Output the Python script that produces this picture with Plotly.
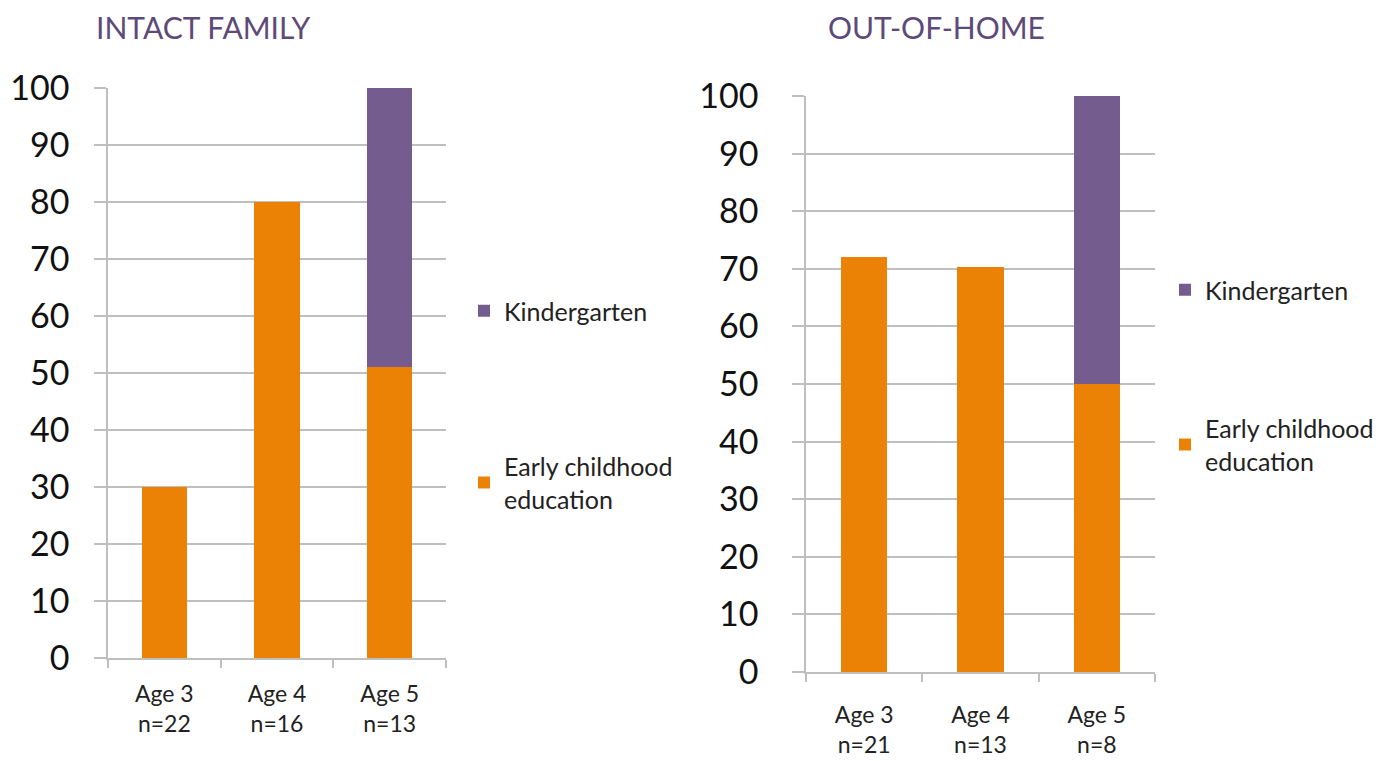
import plotly.graph_objects as go

categories_left = ["Age 3<br>n=22", "Age 4<br>n=16", "Age 5<br>n=13"]
ece_left = [30, 80, 51]
kg_left = [None, None, 49]

categories_right = ["Age 3<br>n=21", "Age 4<br>n=13", "Age 5<br>n=8"]
ece_right = [72, 70.3, 50]
kg_right = [None, None, 50]

titles = ["INTACT FAMILY", "OUT-OF-HOME"]
series_names = ["Early childhood<br>education", "Kindergarten"]
y_ticks = [0, 10, 20, 30, 40, 50, 60, 70, 80, 90, 100]

ORANGE = "#EC8205"
PURPLE = "#745D8E"
GRID = "#BFBFBF"
TITLE_C = "#5E4A78"
FONT = "Lato, Open Sans, sans-serif"

fig = go.Figure()

fig.add_trace(go.Bar(x=categories_left, y=ece_left, name=series_names[0],
                     marker=dict(color=ORANGE, line=dict(width=0)),
                     xaxis="x", yaxis="y", legend="legend", legendgroup="a", legendrank=2))
fig.add_trace(go.Bar(x=categories_left, y=kg_left, name=series_names[1],
                     marker=dict(color=PURPLE, line=dict(width=0)),
                     xaxis="x", yaxis="y", legend="legend", legendgroup="b", legendrank=1))
fig.add_trace(go.Bar(x=categories_right, y=ece_right, name=series_names[0],
                     marker=dict(color=ORANGE, line=dict(width=0)),
                     xaxis="x2", yaxis="y2", legend="legend2", legendgroup="c", legendrank=2))
fig.add_trace(go.Bar(x=categories_right, y=kg_right, name=series_names[1],
                     marker=dict(color=PURPLE, line=dict(width=0)),
                     xaxis="x2", yaxis="y2", legend="legend2", legendgroup="d", legendrank=1))

W, H = 1389, 761
OFF = 8  # page body margin

def px_x(p):
    return (p - OFF) / W

def px_y(p):
    return 1 - (p - OFF) / H

xaxis_common = dict(type="category", showline=True, linecolor=GRID, linewidth=1.5,
                    ticks="outside", tickson="boundaries", ticklen=8, tickcolor=GRID,
                    tickwidth=1.5, showgrid=False, automargin=False,
                    tickfont=dict(family=FONT, size=23, color="#222"),
                    fixedrange=True)
yaxis_common = dict(range=[0, 100], tickvals=y_ticks, showline=True, linecolor=GRID,
                    linewidth=1.5, ticks="outside", ticklen=12, tickcolor=GRID, tickwidth=1.5,
                    showgrid=True, gridcolor=GRID, gridwidth=1.5, zeroline=False,
                    automargin=False,
                    tickfont=dict(family=FONT, size=34, color="#111"), fixedrange=True)

legend_common = dict(font=dict(family=FONT, size=25, color="#222"),
                     traceorder="grouped",
                     bgcolor="rgba(0,0,0,0)", itemwidth=30, xanchor="left", yanchor="top")

fig.update_layout(
    width=W, height=H,
    margin=dict(l=0, r=0, t=0, b=0, autoexpand=False),
    paper_bgcolor="white", plot_bgcolor="white",
    barmode="stack", bargap=0.6,
    showlegend=True,
    xaxis=dict(domain=[px_x(108), px_x(446)], anchor="y", ticklabelstandoff=15, **xaxis_common),
    yaxis=dict(domain=[px_y(658), px_y(88)], anchor="x", ticklabelstandoff=18, **yaxis_common),
    xaxis2=dict(domain=[px_x(806), px_x(1155)], anchor="y2", ticklabelstandoff=22, **xaxis_common),
    yaxis2=dict(domain=[px_y(672), px_y(96)], anchor="x2", ticklabelstandoff=27, **yaxis_common),
    legend=dict(x=px_x(464), y=px_y(288), tracegroupgap=120, **legend_common),
    legend2=dict(x=px_x(1165), y=px_y(267), tracegroupgap=103, **legend_common),
    annotations=[
        dict(text=titles[0], x=px_x(94), y=px_y(27), xref="paper", yref="paper",
             xanchor="left", yanchor="middle", showarrow=False,
             font=dict(family=FONT, size=30, color=TITLE_C)),
        dict(text=titles[1], x=px_x(826), y=px_y(27), xref="paper", yref="paper",
             xanchor="left", yanchor="middle", showarrow=False,
             font=dict(family=FONT, size=30, color=TITLE_C)),
    ],
)

fig.write_html("out.html")
